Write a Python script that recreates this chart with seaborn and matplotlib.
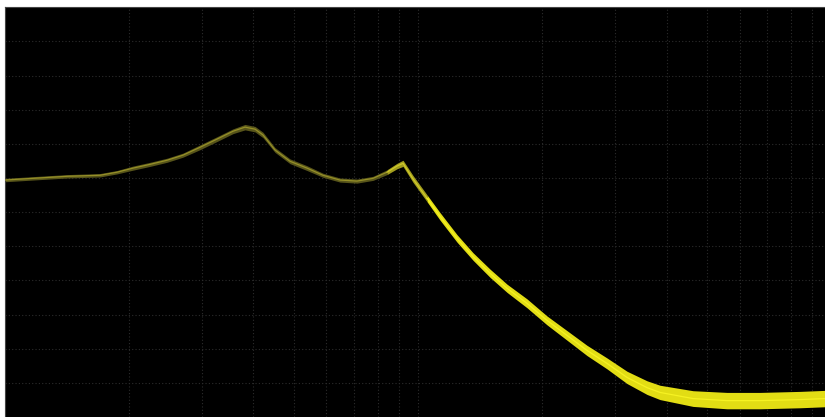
import numpy as np
import pandas as pd
import matplotlib
matplotlib.use('Agg')
import matplotlib.pyplot as plt
import seaborn as sns

# Trace: log frequency axis (1 .. ~96), level in dB (10 dB/div, 0 at top)
freq = [1.00, 1.17, 1.415, 1.70, 1.87, 2.045, 2.248, 2.471, 2.701, 2.970,
        3.265, 3.569, 3.815, 4.035, 4.218, 4.510, 4.902, 5.388, 5.891, 6.476,
        7.119, 7.784, 8.414, 8.896, 9.20, 9.73, 10.51, 11.30, 12.43, 13.59,
        14.94, 16.42, 18.35, 20.51, 22.93, 25.63, 28.65, 32.03, 35.81, 38.49,
        46.26, 55.91, 67.18, 83.95, 96.5]
level_db = [-50.6, -50.1, -49.5, -49.2, -48.3, -47.1, -46.0, -44.8, -43.3, -41.0,
            -38.6, -36.3, -35.1, -35.7, -37.4, -41.8, -45.1, -47.1, -49.2, -50.6,
            -50.9, -50.1, -48.3, -46.5, -45.7, -50.3, -55.9, -61.2, -67.7, -73.0,
            -77.9, -82.3, -86.7, -91.7, -96.1, -100.5, -104.3, -108.4, -111.4, -112.8,
            -114.6, -115.2, -115.2, -114.9, -114.6]
# half width of the noise band around the trace, dB
spread_db = [0.5, 0.5, 0.5, 0.5, 0.5, 0.6, 0.6, 0.6, 0.6, 0.7,
             0.7, 0.7, 0.8, 0.8, 0.8, 0.7, 0.7, 0.7, 0.6, 0.6,
             0.6, 0.6, 0.7, 0.8, 0.9, 1.0, 1.0, 1.1, 1.1, 1.1,
             1.2, 1.2, 1.3, 1.3, 1.4, 1.5, 1.6, 1.8, 2.0, 2.1,
             2.3, 2.4, 2.4, 2.4, 2.4]

vgrid = [2, 3, 4, 5, 6, 7, 8, 9, 10, 20, 30, 40, 50, 60, 70, 80, 90]
hgrid = list(range(-110, 0, 10))

df = pd.DataFrame({'freq': freq, 'level': level_db, 'spread': spread_db})

# split the trace into brightness regions (shared end points so they join)
regions = [('low', df[df.freq <= 8.414]),
           ('peak', df[(df.freq >= 8.414) & (df.freq <= 10.51)]),
           ('roll', df[df.freq >= 10.51])]
line_colors = {'low': '#958f28', 'peak': '#cfc92a', 'roll': '#f6f222'}
fill_colors = {'low': '#57541a', 'peak': '#a29d1e', 'roll': '#e2dd14'}

sns.set_style('dark')
fig = plt.figure(figsize=(8.25, 4.17), dpi=100, facecolor='white')
ax = fig.add_axes([4.6 / 825, 0, 1 - 4.6 / 825, 1 - 7.3 / 417])
ax.set_facecolor('black')
ax.set_xscale('log')
ax.set_xlim(1, 96.5)
ax.set_ylim(-120, 0)

# graticule
for v in vgrid:
    ax.axvline(v, color='#2c2c2c', lw=0.8, ls=(0, (1, 2)), zorder=1)
for h in hgrid:
    ax.axhline(h, color='#2c2c2c', lw=0.8, ls=(0, (1, 2)), zorder=1)

parts = []
for name, part in regions:
    ax.fill_between(part.freq, part.level - part.spread, part.level + part.spread,
                    color=fill_colors[name], lw=0, zorder=2)
    parts.append(part.assign(region=name))
trace = pd.concat(parts, ignore_index=True)
sns.lineplot(data=trace, x='freq', y='level', hue='region', palette=line_colors,
             estimator=None, sort=False, lw=0.9, legend=False, ax=ax, zorder=3)

ax.set_xlabel('')
ax.set_ylabel('')
ax.set_xticks([])
ax.set_xticks([], minor=True)
ax.set_yticks([])
ax.set_yticks(np.arange(-120, 0.1, 2), minor=True)
ax.tick_params(axis='y', which='minor', direction='in', length=4, width=0.8,
               color='#444444', labelleft=False)
ax.grid(False)
for side in ['left', 'top']:
    ax.spines[side].set_color('#444444')
    ax.spines[side].set_linewidth(0.8)
for side in ['right', 'bottom']:
    ax.spines[side].set_visible(False)

fig.savefig('out.png', dpi=100, facecolor='white')
